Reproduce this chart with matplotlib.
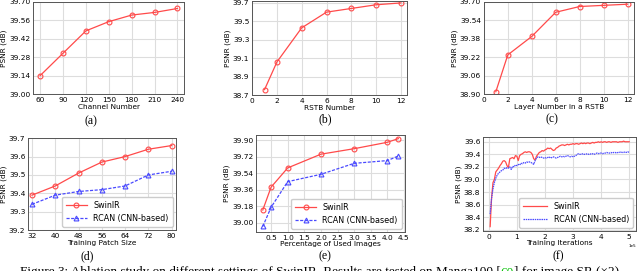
import numpy as np
import matplotlib
matplotlib.use("Agg")
import matplotlib.pyplot as plt

# --------------------
# Data
# --------------------
channels = [60, 90, 120, 150, 180, 210, 240]
psnr_channels = [39.14, 39.31, 39.48, 39.55, 39.60, 39.62, 39.65]

rstb_num = [1, 2, 4, 6, 8, 10, 12]
psnr_rstb = [38.76, 39.06, 39.43, 39.60, 39.64, 39.68, 39.70]

layer_num = [1, 2, 4, 6, 8, 10, 12]
psnr_layer = [38.92, 39.24, 39.40, 39.61, 39.66, 39.67, 39.68]

patch_size = [32, 40, 48, 56, 64, 72, 80]
patch_swinir = [39.39, 39.44, 39.51, 39.57, 39.60, 39.64, 39.66]
patch_rcan = [39.34, 39.39, 39.41, 39.42, 39.44, 39.50, 39.52]

used_pct = [0.25, 0.5, 1.0, 2.0, 3.0, 4.0, 4.33]
used_swinir = [39.14, 39.39, 39.60, 39.75, 39.81, 39.88, 39.92]
used_rcan = [38.96, 39.17, 39.45, 39.53, 39.65, 39.68, 39.73]

# training curves, sampled every 5k iterations
iters = np.arange(5000, 500001, 5000)
train_swinir = [
    38.25, 38.70, 38.95, 39.00, 39.12, 39.15, 39.18, 39.22, 39.25, 39.29,
    39.30, 39.28, 39.22, 39.19, 39.33, 39.34, 39.35, 39.33, 39.38, 39.37,
    39.30, 39.38, 39.40, 39.41, 39.43, 39.44, 39.43, 39.44, 39.44, 39.43,
    39.40, 39.33, 39.31, 39.37, 39.40, 39.43, 39.44, 39.46, 39.45, 39.47,
    39.48, 39.50, 39.49, 39.50, 39.48, 39.46, 39.47, 39.50, 39.51, 39.53,
    39.54, 39.55, 39.55, 39.54, 39.55, 39.56, 39.55, 39.56, 39.56, 39.57,
    39.56, 39.57, 39.57, 39.56, 39.57, 39.58, 39.57, 39.58, 39.57, 39.58,
    39.58, 39.57, 39.58, 39.59, 39.58, 39.59, 39.59, 39.60, 39.59, 39.60,
    39.59, 39.60, 39.60, 39.59, 39.60, 39.60, 39.59, 39.60, 39.60, 39.60,
    39.60, 39.59, 39.60, 39.60, 39.60, 39.61, 39.60, 39.60, 39.60, 39.60,
]
train_rcan = [
    38.45, 38.70, 38.85, 38.95, 39.02, 39.07, 39.10, 39.12, 39.14, 39.15,
    39.18, 39.17, 39.19, 39.18, 39.20, 39.16, 39.21, 39.20, 39.23, 39.22,
    39.24, 39.23, 39.26, 39.25, 39.27, 39.26, 39.28, 39.27, 39.28, 39.27,
    39.26, 39.24, 39.30, 39.34, 39.36, 39.35, 39.36, 39.35, 39.34, 39.35,
    39.34, 39.35, 39.36, 39.34, 39.35, 39.36, 39.35, 39.34, 39.35, 39.36,
    39.37, 39.36, 39.37, 39.36, 39.37, 39.38, 39.37, 39.36, 39.37, 39.36,
    39.37, 39.38, 39.40, 39.41, 39.40, 39.40, 39.41, 39.40, 39.40, 39.41,
    39.40, 39.41, 39.40, 39.41, 39.40, 39.41, 39.42, 39.41, 39.42, 39.42,
    39.41, 39.42, 39.42, 39.43, 39.42, 39.42, 39.43, 39.42, 39.43, 39.43,
    39.42, 39.43, 39.43, 39.44, 39.43, 39.43, 39.44, 39.43, 39.44, 39.43,
]

RED = '#ff4a4a'
BLUE = '#4a4aff'
FS = 5.3
LFS = 5.8

plt.rcParams['font.family'] = 'DejaVu Sans'
plt.rcParams['font.size'] = FS

fig = plt.figure(figsize=(6.4, 2.71), dpi=100)
fmt2 = matplotlib.ticker.FormatStrFormatter('%.2f')


def make_ax(rect):
    ax = fig.add_axes(rect)
    ax.grid(True, color='#dddddd', linewidth=0.8)
    ax.set_axisbelow(True)
    for s in ax.spines.values():
        s.set_color('#555555')
        s.set_linewidth(0.7)
    ax.tick_params(labelsize=FS, length=0, pad=2)
    ax.set_ylabel('PSNR (dB)', fontsize=FS, labelpad=1.5)
    return ax


def red_line(ax, x, y, label=None):
    ax.plot(x, y, color=RED, lw=0.9, marker='o', ms=3.5, mfc='none',
            mew=0.8, label=label)


def blue_line(ax, x, y, label=None):
    ax.plot(x, y, color=BLUE, lw=0.9, ls='--', dashes=(2.5, 1.2), marker='^',
            ms=3.5, mfc='none', mew=0.8, label=label)


def add_legend(ax, hl):
    ax.legend(loc='lower right', fontsize=LFS, handlelength=hl,
              borderpad=0.5, labelspacing=0.5, handletextpad=0.8,
              framealpha=1, edgecolor='#cccccc', borderaxespad=0.4)


# (a)
ax = make_ax([0.052, 0.653, 0.236, 0.340])
red_line(ax, channels, psnr_channels)
ax.set_xticks(channels)
ax.set_ylim(39.0, 39.70)
ax.set_yticks(np.round(np.arange(39.0, 39.71, 0.14), 2))
ax.yaxis.set_major_formatter(fmt2)
ax.set_xlabel('Channel Number', fontsize=FS, labelpad=0.5)

# (b)
ax = make_ax([0.394, 0.649, 0.242, 0.347])
red_line(ax, rstb_num, psnr_rstb)
ax.set_xlim(0, 12.5)
ax.set_xticks(range(0, 13, 2))
ax.set_ylim(38.7, 39.72)
ax.set_yticks(np.round(np.arange(38.7, 39.71, 0.2), 1))
ax.set_xlabel('RSTB Number', fontsize=FS, labelpad=0.5)

# (c)
ax = make_ax([0.756, 0.653, 0.234, 0.340])
red_line(ax, layer_num, psnr_layer)
ax.set_xlim(0, 12.5)
ax.set_xticks(range(0, 13, 2))
ax.set_ylim(38.9, 39.70)
ax.set_yticks(np.round(np.arange(38.9, 39.71, 0.16), 2))
ax.yaxis.set_major_formatter(fmt2)
ax.set_xlabel('Layer Number in a RSTB', fontsize=FS, labelpad=0.5)

# (d)
ax = make_ax([0.044, 0.151, 0.231, 0.339])
red_line(ax, patch_size, patch_swinir, 'SwinIR')
blue_line(ax, patch_size, patch_rcan, 'RCAN (CNN-based)')
ax.set_xlim(30.7, 81.5)
ax.set_xticks(patch_size)
ax.set_ylim(39.2, 39.7)
ax.set_yticks(np.round(np.arange(39.2, 39.71, 0.1), 1))
ax.set_xlabel('Training Patch Size', fontsize=FS, labelpad=0.5)
add_legend(ax, 2.6)

# (e)
ax = make_ax([0.400, 0.144, 0.233, 0.358])
red_line(ax, used_pct, used_swinir, 'SwinIR')
blue_line(ax, used_pct, used_rcan, 'RCAN (CNN-based)')
ax.set_xticks(np.arange(0.5, 4.51, 0.5))
ax.set_ylim(38.90, 39.96)
ax.set_yticks(np.round(np.arange(39.0, 39.91, 0.18), 2))
ax.yaxis.set_major_formatter(fmt2)
ax.set_xlabel('Percentage of Used Images', fontsize=FS, labelpad=0.5)
add_legend(ax, 2.6)

# (f)
ax = make_ax([0.755, 0.148, 0.239, 0.347])
ax.plot(iters, train_swinir, color=RED, lw=0.9, label='SwinIR')
ax.plot(iters, train_rcan, color=BLUE, lw=0.9, ls=(0, (1.2, 0.6)),
        label='RCAN (CNN-based)')
ax.set_xticks(np.arange(0, 500001, 100000))
ax.set_yticks(np.round(np.arange(38.2, 39.61, 0.2), 1))
ax.ticklabel_format(axis='x', style='sci', scilimits=(0, 0))
ax.xaxis.get_offset_text().set_fontsize(3)
ax.set_xlabel('Training Iterations', fontsize=FS, labelpad=0.5)
add_legend(ax, 3.0)

# sub-captions
serif = 'Liberation Serif'
for x, y, s in [(91, 121, '(a)'), (325, 119, '(b)'), (552, 119, '(c)'),
                (87, 256, '(d)'), (325, 256, '(e)'), (558, 256, '(f)')]:
    fig.text(x / 640, 1 - y / 271, s, ha='center', va='center',
             fontsize=8.5, family=serif)

# figure caption, mostly cut off by the bottom edge
cap_kw = dict(fontsize=9.5, family=serif)
t1 = fig.text(20 / 640, 1 - 266.5 / 271,
              'Figure 3: Ablation study on different settings of SwinIR. '
              'Results are tested on Manga100 [', ha='left', va='top', **cap_kw)
a2 = plt.annotate('60', xy=(1, 0), xycoords=t1, ha='left', va='bottom',
                  color='#00c000', annotation_clip=False, **cap_kw)
a3 = plt.annotate('] for image SR (\u00d72).', xy=(1, 0), xycoords=a2,
                  ha='left', va='bottom', annotation_clip=False, **cap_kw)

fig.savefig('out.png', dpi=100)
